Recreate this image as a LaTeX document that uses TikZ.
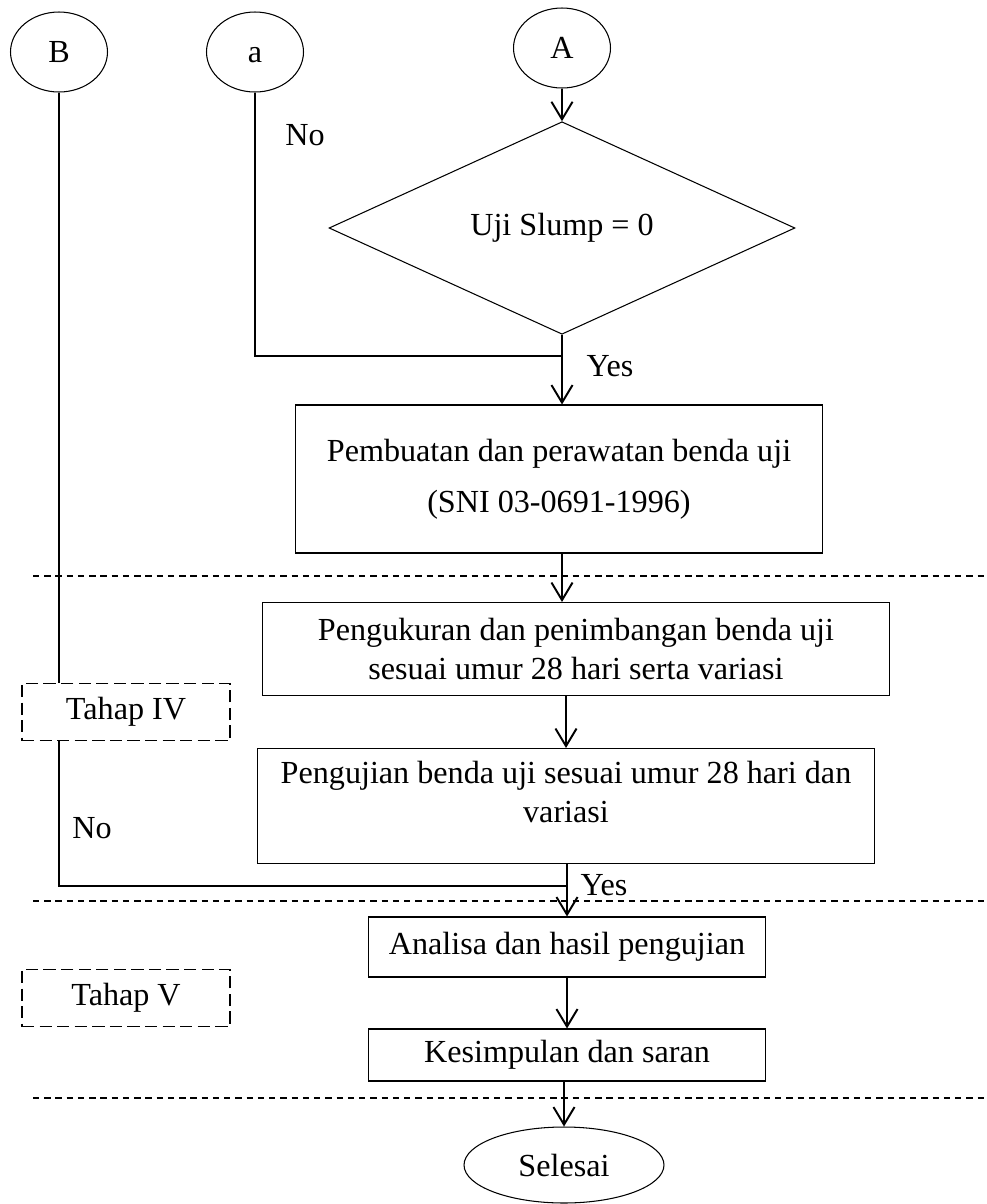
\documentclass[tikz,border=0pt]{standalone}
\usepackage{fontspec}
\setmainfont{Liberation Serif}
\usetikzlibrary{shapes.geometric, positioning, arrows.meta}

\begin{document}
\begin{tikzpicture}[x=0.02cm,y=-0.02cm,>={Straight Barb[length=10pt,width=12pt]},
    font=\fontsize{18.3}{22}\selectfont,
    every node/.style={inner sep=0pt},
    conn/.style={ellipse,draw,line width=0.6pt,minimum width=1.94cm,minimum height=1.6cm,text height=12pt,text depth=0pt},
    box/.style={rectangle,draw,line width=0.6pt,align=center},
    phase/.style={rectangle,draw,dash pattern=on 7pt off 3pt,line width=0.8pt,minimum width=4.16cm,minimum height=1.14cm},
    flow/.style={->,line width=1.1pt},
    link/.style={line width=0.6pt},
    sep/.style={dash pattern=on 3.6pt off 2.8pt,line width=0.6pt}]
    \useasboundingbox (0,0) rectangle (987,1204);

    \node[conn] (B) at (59,52) {B};
    \node[conn] (a) at (255,52) {a};
    \node[conn] (A) at (562,48) {A};
    \node[diamond,draw,line width=0.6pt,minimum width=9.32cm,minimum height=3.68cm] (dia) at (562,228) {Uji Slump = 0};
    \node[box,minimum width=10.54cm,minimum height=2.96cm] (box1) at (559,479) {Pembuatan dan perawatan benda uji\\[7pt](SNI 03-0691-1996)};
    \node[box,minimum width=12.56cm,minimum height=1.86cm] (box2) at (576,649) {Pengukuran dan penimbangan benda uji\\sesuai umur 28 hari serta variasi};
    \node[box,minimum width=12.34cm,minimum height=2.3cm] (box3) at (566,806) {Pengujian benda uji sesuai umur 28 hari dan\\variasi\\[-6pt]\mbox{}};
    \node[box,minimum width=7.96cm,minimum height=1.2cm] (box4) at (567,947) {Analisa dan hasil pengujian};
    \node[box,minimum width=7.96cm,minimum height=1.04cm] (box5) at (567,1055) {Kesimpulan dan saran};
    \node[ellipse,draw,line width=0.6pt,minimum width=4cm,minimum height=1.52cm] (end) at (564,1165) {Selesai};

    \node[phase] (t4) at (126,712) {Tahap IV};
    \node[phase] (t5) at (126,998) {Tahap V};

    \node (no1) at (305,135) {No};
    \node (yes1) at (610,366) {Yes};
    \node (no2) at (92,828) {No};
    \node (yes2) at (604,885) {Yes};

    % stage separators
    \foreach \y in {576,901,1098}
      \draw[sep] (33,\y) -- (987,\y);

    % main flow
    \draw[flow] (A) -- (dia);
    \draw[flow] (dia.south) -- (dia.south |- box1.north);
    \coordinate (j1) at (dia.south |- 0,356);
    \draw[flow] (box1.south -| A) -- (box2.north -| A);
    \draw[flow] (box2.south -| box3) -- (box3.north);
    \draw[flow] (box3.south -| box4) -- (box4.north);
    \coordinate (j2) at (box4.north |- 0,886);
    \draw[flow] (box4) -- (box5);
    \draw[flow] (box5.south -| end) -- (end);

    % back links
    \draw[link] (a) |- (j1);
    \draw[link] (B) -- (B |- t4.north);
    \draw[link] (B |- t4.south) |- (j2);
\end{tikzpicture}
\end{document}
